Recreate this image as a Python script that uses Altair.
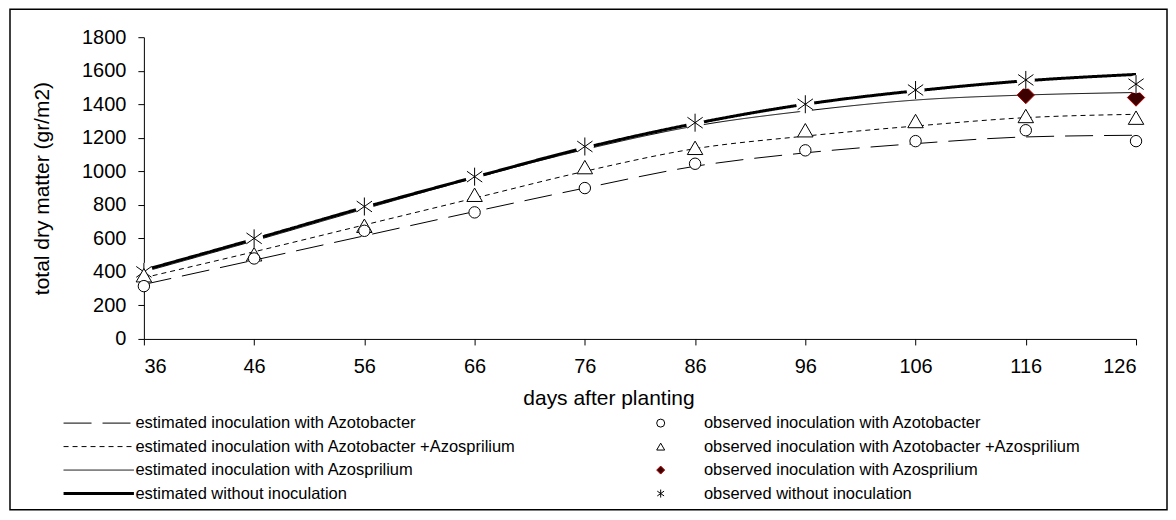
import altair as alt
import pandas as pd

# ---------------- data ----------------
days = [36, 46, 56, 66, 76, 86, 96, 106, 116, 126]
y_ticks = [0, 200, 400, 600, 800, 1000, 1200, 1400, 1600, 1800]

est_labels = [
    "estimated inoculation with Azotobacter",
    "estimated inoculation with Azotobacter +Azosprilium",
    "estimated inoculation with Azosprilium",
    "estimated without inoculation",
]
obs_labels = [
    "observed inoculation with Azotobacter",
    "observed inoculation with Azotobacter +Azosprilium",
    "observed inoculation with Azosprilium",
    "observed without inoculation",
]

est_azoto = [325, 470, 615, 760, 900, 1030, 1110, 1165, 1205, 1215]
est_azoto_azos = [365, 520, 680, 840, 1000, 1135, 1210, 1270, 1320, 1340]
est_azos = [400, 585, 775, 960, 1130, 1270, 1360, 1425, 1455, 1470]
est_without = [410, 595, 785, 965, 1140, 1285, 1400, 1480, 1540, 1578]

obs_azoto = [315, 480, 645, 755, 900, 1045, 1125, 1180, 1245, 1180]
obs_azoto_azos = [380, 505, 675, 860, 1025, 1140, 1245, 1300, 1330, 1320]
obs_azos = [None, None, None, None, None, None, None, None, 1455, 1440]
obs_without = [400, 600, 790, 968, 1148, 1290, 1400, 1485, 1545, 1520]

# ---------------- tables ----------------
est_rows = []
for lab, vals in zip(est_labels, [est_azoto, est_azoto_azos, est_azos, est_without]):
    for d, v in zip(days, vals):
        est_rows.append({"day": d, "value": v, "series": lab})
est_df = pd.DataFrame(est_rows)

obs_rows = []
for lab, vals in zip(obs_labels, [obs_azoto, obs_azoto_azos, obs_azos, obs_without]):
    for d, v in zip(days, vals):
        if v is not None:
            obs_rows.append({"day": d, "value": v, "obs": lab})
obs_df = pd.DataFrame(obs_rows)

FONT = "Liberation Sans"
STAR = "M0,-1L0,1M-0.85,-0.6L0.85,0.6M-0.85,0.6L0.85,-0.6"

x_enc = alt.X(
    "day:Q",
    scale=alt.Scale(domain=[36, 126], nice=False, zero=False),
    axis=alt.Axis(values=days, title="days after planting", grid=False,
                  tickSize=6, labelPadding=12, titlePadding=11,
                  titleX=465, titleAlign="center",
                  labelFontSize=20, titleFontSize=21),
)
y_enc = alt.Y(
    "value:Q",
    scale=alt.Scale(domain=[0, 1800], nice=False),
    axis=alt.Axis(values=y_ticks, format="d", title="total dry matter (gr/m2)", grid=False,
                  tickSize=6, labelPadding=12, titlePadding=29,
                  labelFontSize=20, titleFontSize=21),
)

line_legend = alt.Legend(
    title=None, orient="none", legendX=-25, legendY=378,
    symbolType="M-15,0L1.6,0", symbolSize=72, symbolStrokeColor="black",
    symbolStrokeWidth=alt.ExprRef(
        expr="datum && datum.value === '" + est_labels[3] + "' ? 3 : 1"),
    labelFont=FONT, labelFontSize=16.5, labelOffset=0, rowPadding=6.5,
    labelLimit=700, labelColor="black",
)

lines = alt.Chart(est_df).mark_line(interpolate="monotone", color="black").encode(
    x=x_enc,
    y=y_enc,
    strokeDash=alt.StrokeDash(
        "series:N",
        scale=alt.Scale(domain=est_labels, range=[[28, 11], [5, 4], [1, 0], [1, 0]]),
        legend=line_legend,
    ),
    strokeWidth=alt.condition(alt.datum.series == est_labels[3], alt.value(3), alt.value(1)),
)

pt_legend = alt.Legend(
    title=None, orient="none", legendX=509, legendY=378,
    symbolSize=64, symbolStrokeWidth=1,
    labelFont=FONT, labelFontSize=16.5, labelOffset=35, rowPadding=6.5,
    labelLimit=700, labelColor="black",
)

shape_enc = alt.Shape("obs:N", scale=alt.Scale(domain=obs_labels,
                      range=["circle", "triangle-up", "diamond", STAR]), legend=pt_legend)
fill_enc = alt.Fill("obs:N", scale=alt.Scale(domain=obs_labels,
                    range=["white", "white", "#3c0000", "white"]), legend=pt_legend)
stroke_enc = alt.Stroke("obs:N", scale=alt.Scale(domain=obs_labels,
                        range=["black", "black", "#b00000", "black"]), legend=pt_legend)


def pts(names, size):
    return alt.Chart(obs_df).transform_filter(
        alt.FieldOneOfPredicate(field="obs", oneOf=names)
    ).mark_point(filled=True, opacity=1, strokeWidth=1, size=size).encode(
        x=x_enc, y=y_enc, shape=shape_enc, fill=fill_enc, stroke=stroke_enc
    )


diamonds = pts([obs_labels[2]], 300)
star_bg = alt.Chart(obs_df).transform_filter(
    alt.FieldEqualPredicate(field="obs", equal=obs_labels[3])
).mark_point(filled=True, shape="circle", size=330, color="white", opacity=1).encode(
    x=x_enc, y=y_enc
)
stars = pts([obs_labels[3]], 324)
triangles = pts([obs_labels[1]], 240)
circles = pts([obs_labels[0]], 130)

border = alt.Chart(pd.DataFrame({"b": [0]})).mark_rect(
    fillOpacity=0, stroke="black", strokeWidth=1.5
).encode(
    x=alt.value(-134), x2=alt.value(1024), y=alt.value(-28), y2=alt.value(473)
)

chart = alt.layer(border, lines, diamonds, star_bg, stars, triangles, circles).properties(
    width=993, height=302,
    padding={"left": 1, "top": 0, "right": 0, "bottom": 0},
).configure_view(stroke=None).configure_axis(
    domainColor="black", tickColor="black", labelColor="black", titleColor="black",
    labelFont=FONT, titleFont=FONT, titleFontWeight="normal",
).configure_legend(padding=0)

chart.save("out.html", embed_options={"renderer": "svg", "actions": False})
